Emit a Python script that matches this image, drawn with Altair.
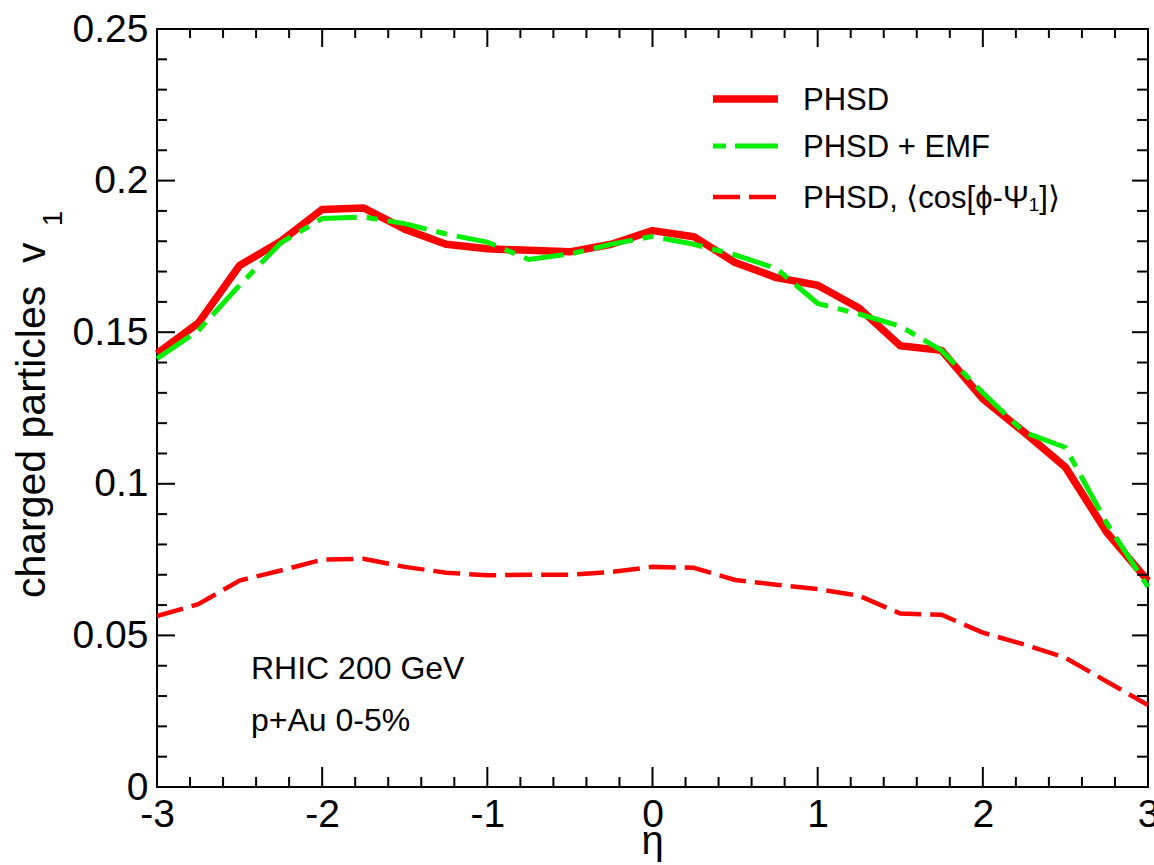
import altair as alt
import pandas as pd

# ---------------- data ----------------
eta = [-3.0, -2.75, -2.5, -2.25, -2.0, -1.75, -1.5, -1.25, -1.0, -0.75, -0.5, -0.25,
       0.0, 0.25, 0.5, 0.75, 1.0, 1.25, 1.5, 1.75, 2.0, 2.25, 2.5, 2.75, 3.0]
phsd = [0.143, 0.153, 0.172, 0.180, 0.1905, 0.191, 0.184, 0.179, 0.1775, 0.177, 0.1765, 0.179,
        0.1835, 0.1815, 0.173, 0.168, 0.1655, 0.158, 0.1455, 0.1440, 0.128, 0.117, 0.1055, 0.084, 0.068]
phsd_emf = [0.1413, 0.1505, 0.1655, 0.1795, 0.1875, 0.188, 0.1858, 0.1824, 0.1797, 0.174, 0.1758, 0.179,
            0.1816, 0.179, 0.1755, 0.171, 0.1595, 0.156, 0.152, 0.144, 0.130, 0.117, 0.112, 0.087, 0.066]
phsd_cos = [0.0564, 0.0603, 0.0681, 0.0714, 0.0750, 0.0753, 0.0726, 0.0707, 0.0698, 0.0700, 0.0700, 0.0709,
            0.0726, 0.0723, 0.0683, 0.0667, 0.0653, 0.0631, 0.0572, 0.0568, 0.0509, 0.0470, 0.0426, 0.0348, 0.0270]

series_labels = ["PHSD", "PHSD + EMF", "PHSD, \u27e8cos[\u03d5-\u03a8\u2081]\u27e9"]
annotation_lines = ["RHIC 200 GeV", "p+Au 0-5%"]
x_title = "\u03b7"
y_title = "charged particles\u00a0\u00a0v"
y_title_sub = "1"

x_major = [-3, -2, -1, 0, 1, 2, 3]
x_minor = [-2.8, -2.6, -2.4, -2.2, -1.8, -1.6, -1.4, -1.2, -0.8, -0.6, -0.4, -0.2,
           0.2, 0.4, 0.6, 0.8, 1.2, 1.4, 1.6, 1.8, 2.2, 2.4, 2.6, 2.8]
y_major = [0, 0.05, 0.1, 0.15, 0.2, 0.25]
y_minor = [0.01, 0.02, 0.03, 0.04, 0.06, 0.07, 0.08, 0.09, 0.11, 0.12, 0.13, 0.14,
           0.16, 0.17, 0.18, 0.19, 0.21, 0.22, 0.23, 0.24]

# ---------------- layout / style ----------------
W, H = 991, 758
FONT = "Liberation Sans"
RED = "#ff0000"
GREEN = "#00ee00"

xs = alt.Scale(domain=[-3, 3], nice=False, zero=False)
ys = alt.Scale(domain=[0, 0.25], nice=False, zero=False)

xaxis = alt.Axis(values=x_major, ticks=False, tickSize=0, domain=False, grid=False,
                 labelFont=FONT, labelFontSize=39, labelColor="black", labelPadding=8,
                 labelFlush=False, labelOverlap=False, labelExpr="'' + datum.value", title=None)
yaxis = alt.Axis(values=y_major, ticks=False, tickSize=0, domain=False, grid=False,
                 labelFont=FONT, labelFontSize=39, labelColor="black", labelPadding=9,
                 labelFlush=False, labelOverlap=False, labelExpr="'' + datum.value", title=None)


def X(field):
    return alt.X(field, type="quantitative", scale=xs, axis=xaxis)


def Y(field):
    return alt.Y(field, type="quantitative", scale=ys, axis=yaxis)


df = pd.DataFrame({"eta": eta, "phsd": phsd, "emf": phsd_emf, "cos": phsd_cos})
base = alt.Chart(df)

l_cos = base.mark_line(color=RED, strokeWidth=4.5, strokeDash=[27, 9], strokeCap="butt").encode(
    x=X("eta"), y=Y("cos"))
l_phsd = base.mark_line(color=RED, strokeWidth=7.5, strokeCap="butt", strokeJoin="round").encode(
    x=X("eta"), y=Y("phsd"))
l_emf = base.mark_line(color=GREEN, strokeWidth=5, strokeDash=[40, 10, 11, 10], strokeCap="butt").encode(
    x=X("eta"), y=Y("emf"))

# ---------------- inward ticks on all four sides ----------------
dxM = pd.DataFrame({"v": x_major})
dxm = pd.DataFrame({"v": x_minor})
dyM = pd.DataFrame({"v": y_major})
dym = pd.DataFrame({"v": y_minor})
tk = dict(color="black", strokeWidth=2)
ticks = [
    alt.Chart(dxM).mark_rule(**tk).encode(x=X("v"), y=alt.value(H), y2=alt.value(H - 20)),
    alt.Chart(dxm).mark_rule(**tk).encode(x=X("v"), y=alt.value(H), y2=alt.value(H - 10)),
    alt.Chart(dxM).mark_rule(**tk).encode(x=X("v"), y=alt.value(0), y2=alt.value(18)),
    alt.Chart(dxm).mark_rule(**tk).encode(x=X("v"), y=alt.value(0), y2=alt.value(9)),
    alt.Chart(dyM).mark_rule(**tk).encode(y=Y("v"), x=alt.value(0), x2=alt.value(18)),
    alt.Chart(dym).mark_rule(**tk).encode(y=Y("v"), x=alt.value(0), x2=alt.value(10)),
    alt.Chart(dyM).mark_rule(**tk).encode(y=Y("v"), x=alt.value(W), x2=alt.value(W - 16)),
    alt.Chart(dym).mark_rule(**tk).encode(y=Y("v"), x=alt.value(W), x2=alt.value(W - 11)),
]

# ---------------- legend (manual) ----------------
one = pd.DataFrame({"a": [0]})
leg_rows = [
    (series_labels[0], RED, 7.5, None, 70),
    (series_labels[1], GREEN, 5, [13, 9, 43, 9], 117),
    (series_labels[2], RED, 4.5, [27, 9], 168),
]
legend = []
for lab, col, sw, dash, yc in leg_rows:
    kw = dict(color=col, strokeWidth=sw, strokeCap="butt")
    if dash:
        kw["strokeDash"] = dash
    legend.append(alt.Chart(one).mark_rule(**kw).encode(
        x=alt.value(556), x2=alt.value(621), y=alt.value(yc)))
    legend.append(alt.Chart(pd.DataFrame({"t": [lab]})).mark_text(
        font=FONT, fontSize=31, color="black", align="left", baseline="alphabetic").encode(
        text="t:N", x=alt.value(646), y=alt.value(yc + 11)))

# ---------------- annotations & titles ----------------
texts = []
for line, yb in zip(annotation_lines, [650, 702]):
    texts.append(alt.Chart(pd.DataFrame({"t": [line]})).mark_text(
        font=FONT, fontSize=32, color="black", align="left", baseline="alphabetic").encode(
        text="t:N", x=alt.value(94), y=alt.value(yb)))

texts.append(alt.Chart(pd.DataFrame({"t": [x_title]})).mark_text(
    font=FONT, fontSize=40, color="black", align="center", baseline="alphabetic").encode(
    text="t:N", x=alt.value(W / 2), y=alt.value(825)))
texts.append(alt.Chart(pd.DataFrame({"t": [y_title]})).mark_text(
    font=FONT, fontSize=41, color="black", align="left", baseline="alphabetic", angle=270).encode(
    text="t:N", x=alt.value(-112), y=alt.value(569)))
texts.append(alt.Chart(pd.DataFrame({"t": [y_title_sub]})).mark_text(
    font=FONT, fontSize=27, color="black", align="left", baseline="alphabetic", angle=270).encode(
    text="t:N", x=alt.value(-95), y=alt.value(197)))

chart = alt.layer(l_cos, l_phsd, l_emf, *ticks, *legend, *texts).properties(
    width=W, height=H,
    padding={"left": 157, "top": 29, "right": 6, "bottom": 78},
    autosize=alt.AutoSizeParams(type="none"),
    background="white",
).configure_view(stroke="black", strokeWidth=2)

chart.save("out.html", embed_options={"renderer": "svg", "actions": False})
